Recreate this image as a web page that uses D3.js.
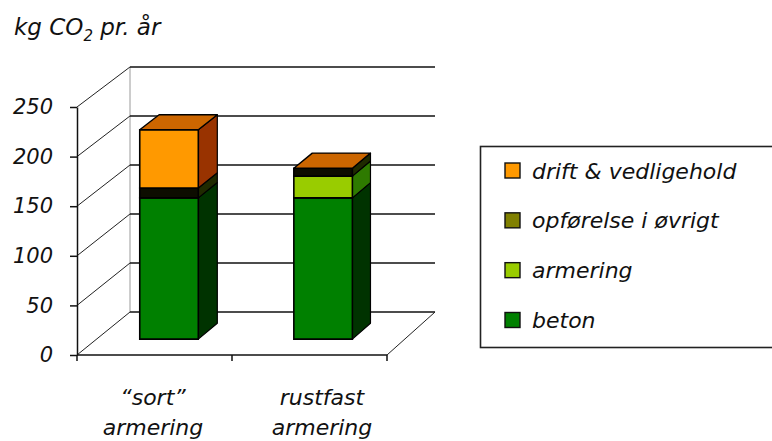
<!DOCTYPE html>
<html>
<head>
<meta charset="utf-8">
<script src="https://cdn.jsdelivr.net/npm/d3@7"></script>
<style>
  body { margin: 0; background: #fff; }
  text { font-family: "DejaVu Sans", Verdana, sans-serif; font-style: italic; fill: #111; }
</style>
</head>
<body>
<svg id="chart" width="772" height="441"></svg>
<script>
// ---- data ----
const categories = ["sort", "rustfast"];
const categoryLines = [["\u201Csort\u201D", "armering"], ["rustfast", "armering"]];
const seriesNames = ["beton", "armering", "opførelse i øvrigt", "drift & vedligehold"];
const beton = [143, 143];
const armering = [0, 22];
const opfoerelse = [10, 8];
const drift = [59, 0];
const yTicks = [0, 50, 100, 150, 200, 250];

// ---- palette (front / side / top faces, legend swatches) ----
const frontColors  = ["#008000", "#99cc00", "#0d0d00", "#ff9900"];
const sideColors   = ["#003300", "#2e7a00", "#1f2a00", "#993300"];
const topColors    = ["#006600", "#669900", "#666600", "#cc6600"];
const legendColors = ["#008000", "#99cc00", "#808000", "#ff9900"];

const seriesValues = [beton, armering, opfoerelse, drift];
const table = categories.map((c, i) => {
  const row = { category: c };
  seriesNames.forEach((s, j) => { row[s] = seriesValues[j][i]; });
  return row;
});
const stacked = d3.stack().keys(seriesNames)(table);

const svg = d3.select("#chart");
const FONT = "DejaVu Sans, Verdana, sans-serif";

// ---- 3D projection: front-plane x, value, depth (0 = front, 1 = back wall) ----
const xBand = d3.scaleBand().domain(categories).range([77, 387]);
const yFront = d3.scaleLinear().domain([0, 250]).range([355, 107]);
const X0 = 77, DX = 53, DY = 43;
function P(x, v, d) {
  const y0 = yFront(0);
  return [X0 + (x - X0) * (1 - 0.016 * d) + DX * d,
          y0 - DY * d - (y0 - yFront(v)) * (1 - 0.012 * d)];
}
const poly = pts => "M" + pts.map(p => p.join(",")).join("L") + "Z";
const line = (a, b) => "M" + a.join(",") + "L" + b.join(",");

const xMin = xBand.range()[0], xMax = xBand.range()[1];
const walls = svg.append("g");

// back wall: left edge, gridlines
walls.append("path")
  .attr("d", line(P(xMin, 0, 1), P(xMin, 250, 1)))
  .attr("stroke", "#9a9a9a").attr("stroke-width", 1).attr("fill", "none");
walls.selectAll(".grid").data(yTicks).join("path")
  .attr("d", v => line(P(xMin, v, 1), P(xMax, v, 1)))
  .attr("stroke", "#111").attr("stroke-width", 1.5).attr("fill", "none");

// side wall diagonals from the value axis to the back wall
walls.selectAll(".diag").data(yTicks).join("path")
  .attr("d", v => line(P(xMin, v, 0), P(xMin, v, 1)))
  .attr("stroke", "#222").attr("stroke-width", 1).attr("fill", "none");

// floor right edge
walls.append("path")
  .attr("d", line(P(xMax, 0, 0), P(xMax, 0, 1)))
  .attr("stroke", "#222").attr("stroke-width", 1).attr("fill", "none");

// category axis with ticks at band boundaries
const bounds = categories.map(c => xBand(c)).concat([xMax]);
walls.append("path")
  .attr("d", line(P(xMin, 0, 0), P(xMax, 0, 0)))
  .attr("stroke", "#111").attr("stroke-width", 1.5).attr("fill", "none");
walls.selectAll(".xtick").data(bounds).join("path")
  .attr("d", x => line(P(x, 0, 0), [P(x, 0, 0)[0], P(x, 0, 0)[1] + 6]))
  .attr("stroke", "#111").attr("stroke-width", 1.5);

// value axis
const yAxis = svg.append("g")
  .attr("transform", `translate(${X0},0)`)
  .call(d3.axisLeft(yFront).tickValues(yTicks).tickSize(7).tickSizeOuter(0).tickPadding(17));
yAxis.select(".domain").attr("stroke", "#111").attr("stroke-width", 1.5);
yAxis.selectAll(".tick line").attr("stroke", "#111").attr("stroke-width", 1.5);
yAxis.selectAll(".tick text")
  .attr("font-size", 21).attr("font-family", FONT)
  .attr("font-style", "italic").attr("fill", "#111");

// ---- stacked 3D bars ----
const d0 = 0.37, d1 = 0.74;
const barOffset = xBand.bandwidth() * 0.28, barWidth = xBand.bandwidth() * 0.38;
const bars = svg.append("g");
categories.forEach((c, i) => {
  const xl = xBand(c) + barOffset, xr = xl + barWidth;
  const g = bars.append("g");
  stacked.forEach((layer, j) => {
    const [v0, v1] = layer[i];
    if (v1 - v0 <= 0) return;
    g.append("path")
      .attr("d", poly([P(xr, v0, d0), P(xr, v0, d1), P(xr, v1, d1), P(xr, v1, d0)]))
      .attr("fill", sideColors[j]).attr("stroke", "#000").attr("stroke-width", 1.2)
      .attr("stroke-linejoin", "round");
    g.append("path")
      .attr("d", poly([P(xl, v0, d0), P(xr, v0, d0), P(xr, v1, d0), P(xl, v1, d0)]))
      .attr("fill", frontColors[j]).attr("stroke", "#000").attr("stroke-width", 1.6);
  });
  const topLayer = stacked.length - 1;
  const vt = stacked[topLayer][i][1];
  g.append("path")
    .attr("d", poly([P(xl, vt, d0), P(xr, vt, d0), P(xr, vt, d1), P(xl, vt, d1)]))
    .attr("fill", topColors[topLayer]).attr("stroke", "#000").attr("stroke-width", 1.4)
    .attr("stroke-linejoin", "round");
});

// ---- category labels ----
const xLabel = d3.scalePoint().domain(categories).range([153, 322]);
categories.forEach((c, i) => {
  const t = svg.append("text")
    .attr("x", xLabel(c)).attr("text-anchor", "middle").attr("font-size", 22);
  categoryLines[i].forEach((s, k) => {
    t.append("tspan").attr("x", xLabel(c)).attr("y", 405 + k * 30).text(s);
  });
});

// ---- unit title ----
const title = svg.append("text").attr("x", 14).attr("y", 35).attr("font-size", 23);
title.append("tspan").text("kg CO");
title.append("tspan").attr("font-size", 15).attr("dy", 6).text("2");
title.append("tspan").attr("dy", -6).text(" pr. år");

// ---- legend ----
const legend = svg.append("g");
legend.append("rect")
  .attr("x", 480.5).attr("y", 146.5).attr("width", 320).attr("height", 201)
  .attr("fill", "#fff").attr("stroke", "#222").attr("stroke-width", 1.6);
const legendOrder = d3.range(seriesNames.length).reverse();
const rowY = d3.scalePoint().domain(legendOrder).range([170.5, 320]);
legendOrder.forEach(j => {
  const y = rowY(j);
  legend.append("rect")
    .attr("x", 505).attr("y", y - 7.5).attr("width", 15).attr("height", 15)
    .attr("fill", legendColors[j]).attr("stroke", "#111").attr("stroke-width", 1.4);
  legend.append("text")
    .attr("x", 532).attr("y", y + 8).attr("font-size", 22).text(seriesNames[j]);
});
</script>
</body>
</html>
